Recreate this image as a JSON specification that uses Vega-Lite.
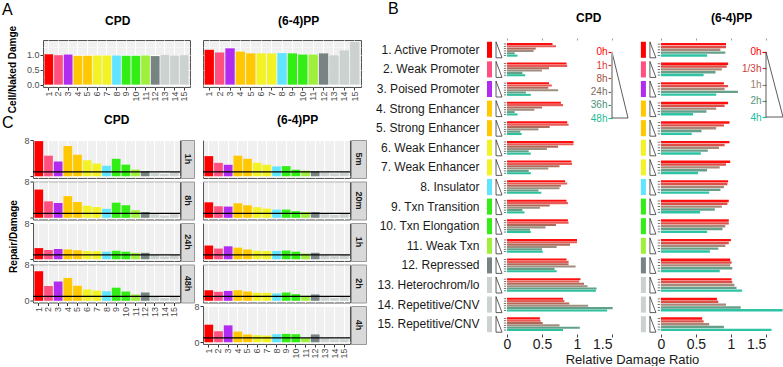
{
"$schema": "https://vega.github.io/schema/vega-lite/v6.json",
"background": "white",
"padding": {"left": 2, "top": 0, "right": 0, "bottom": 0},
"config": {
 "font": "Liberation Sans",
 "view": {"stroke": null},
 "title": {"fontSize": 12, "fontWeight": "bold", "frame": "group", "anchor": "start", "align": "center", "baseline": "alphabetic", "color": "#000000"}
},
"datasets": {
 "states": [
  {"s":1,"label":"1. Active Promoter"},{"s":2,"label":"2. Weak Promoter"},{"s":3,"label":"3. Poised Promoter"},
  {"s":4,"label":"4. Strong Enhancer"},{"s":5,"label":"5. Strong Enhancer"},{"s":6,"label":"6. Weak Enhancer"},
  {"s":7,"label":"7. Weak Enhancer"},{"s":8,"label":"8. Insulator"},{"s":9,"label":"9. Txn Transition"},
  {"s":10,"label":"10. Txn Elongation"},{"s":11,"label":"11. Weak Txn"},{"s":12,"label":"12. Repressed"},
  {"s":13,"label":"13. Heterochrom/lo"},{"s":14,"label":"14. Repetitive/CNV"},{"s":15,"label":"15. Repetitive/CNV"}
 ],
 "bcpd": [
  {"s":1,"t":"0h","v":0.65},{"s":1,"t":"1h","v":0.70},{"s":1,"t":"8h","v":0.41},{"s":1,"t":"24h","v":0.38},{"s":1,"t":"36h","v":0.11},{"s":1,"t":"48h","v":0.15},
  {"s":2,"t":"0h","v":0.85},{"s":2,"t":"1h","v":0.86},{"s":2,"t":"8h","v":0.60},{"s":2,"t":"24h","v":0.50},{"s":2,"t":"36h","v":0.22},{"s":2,"t":"48h","v":0.26},
  {"s":3,"t":"0h","v":0.60},{"s":3,"t":"1h","v":0.64},{"s":3,"t":"8h","v":0.59},{"s":3,"t":"24h","v":0.73},{"s":3,"t":"36h","v":0.27},{"s":3,"t":"48h","v":0.34},
  {"s":4,"t":"0h","v":0.77},{"s":4,"t":"1h","v":0.80},{"s":4,"t":"8h","v":0.50},{"s":4,"t":"24h","v":0.39},{"s":4,"t":"36h","v":0.11},{"s":4,"t":"48h","v":0.15},
  {"s":5,"t":"0h","v":0.86},{"s":5,"t":"1h","v":0.88},{"s":5,"t":"8h","v":0.61},{"s":5,"t":"24h","v":0.45},{"s":5,"t":"36h","v":0.19},{"s":5,"t":"48h","v":0.21},
  {"s":6,"t":"0h","v":0.95},{"s":6,"t":"1h","v":0.95},{"s":6,"t":"8h","v":0.73},{"s":6,"t":"24h","v":0.57},{"s":6,"t":"36h","v":0.31},{"s":6,"t":"48h","v":0.34},
  {"s":7,"t":"0h","v":0.92},{"s":7,"t":"1h","v":0.93},{"s":7,"t":"8h","v":0.75},{"s":7,"t":"24h","v":0.59},{"s":7,"t":"36h","v":0.31},{"s":7,"t":"48h","v":0.34},
  {"s":8,"t":"0h","v":0.83},{"s":8,"t":"1h","v":0.86},{"s":8,"t":"8h","v":0.77},{"s":8,"t":"24h","v":0.75},{"s":8,"t":"36h","v":0.45},{"s":8,"t":"48h","v":0.49},
  {"s":9,"t":"0h","v":0.85},{"s":9,"t":"1h","v":0.87},{"s":9,"t":"8h","v":0.61},{"s":9,"t":"24h","v":0.47},{"s":9,"t":"36h","v":0.22},{"s":9,"t":"48h","v":0.25},
  {"s":10,"t":"0h","v":0.87},{"s":10,"t":"1h","v":0.88},{"s":10,"t":"8h","v":0.70},{"s":10,"t":"24h","v":0.55},{"s":10,"t":"36h","v":0.33},{"s":10,"t":"48h","v":0.34},
  {"s":11,"t":"0h","v":1.00},{"s":11,"t":"1h","v":1.00},{"s":11,"t":"8h","v":0.90},{"s":11,"t":"24h","v":0.71},{"s":11,"t":"36h","v":0.50},{"s":11,"t":"48h","v":0.51},
  {"s":12,"t":"0h","v":0.85},{"s":12,"t":"1h","v":0.88},{"s":12,"t":"8h","v":0.88},{"s":12,"t":"24h","v":0.98},{"s":12,"t":"36h","v":0.68},{"s":12,"t":"48h","v":0.71},
  {"s":13,"t":"0h","v":1.05},{"s":13,"t":"1h","v":1.03},{"s":13,"t":"8h","v":1.10},{"s":13,"t":"24h","v":1.15},{"s":13,"t":"36h","v":1.28},{"s":13,"t":"48h","v":1.27},
  {"s":14,"t":"0h","v":0.80},{"s":14,"t":"1h","v":0.82},{"s":14,"t":"8h","v":0.89},{"s":14,"t":"24h","v":1.16},{"s":14,"t":"36h","v":1.51},{"s":14,"t":"48h","v":1.43},
  {"s":15,"t":"0h","v":0.47},{"s":15,"t":"1h","v":0.48},{"s":15,"t":"8h","v":0.51},{"s":15,"t":"24h","v":0.75},{"s":15,"t":"36h","v":1.04},{"s":15,"t":"48h","v":0.80}
 ],
 "bpp": [
  {"s":1,"t":"0h","v":0.93},{"s":1,"t":"1/3h","v":0.93},{"s":1,"t":"1h","v":0.85},{"s":1,"t":"2h","v":0.92},{"s":1,"t":"4h","v":0.66},
  {"s":2,"t":"0h","v":0.96},{"s":2,"t":"1/3h","v":0.94},{"s":2,"t":"1h","v":0.87},{"s":2,"t":"2h","v":0.78},{"s":2,"t":"4h","v":0.61},
  {"s":3,"t":"0h","v":0.90},{"s":3,"t":"1/3h","v":0.96},{"s":3,"t":"1h","v":0.91},{"s":3,"t":"2h","v":1.10},{"s":3,"t":"4h","v":0.79},
  {"s":4,"t":"0h","v":0.96},{"s":4,"t":"1/3h","v":0.91},{"s":4,"t":"1h","v":0.79},{"s":4,"t":"2h","v":0.65},{"s":4,"t":"4h","v":0.46},
  {"s":5,"t":"0h","v":0.98},{"s":5,"t":"1/3h","v":0.90},{"s":5,"t":"1h","v":0.79},{"s":5,"t":"2h","v":0.58},{"s":5,"t":"4h","v":0.44},
  {"s":6,"t":"0h","v":0.98},{"s":6,"t":"1/3h","v":0.91},{"s":6,"t":"1h","v":0.83},{"s":6,"t":"2h","v":0.67},{"s":6,"t":"4h","v":0.57},
  {"s":7,"t":"0h","v":0.99},{"s":7,"t":"1/3h","v":0.93},{"s":7,"t":"1h","v":0.84},{"s":7,"t":"2h","v":0.66},{"s":7,"t":"4h","v":0.53},
  {"s":8,"t":"0h","v":0.96},{"s":8,"t":"1/3h","v":0.95},{"s":8,"t":"1h","v":0.90},{"s":8,"t":"2h","v":0.85},{"s":8,"t":"4h","v":0.69},
  {"s":9,"t":"0h","v":0.97},{"s":9,"t":"1/3h","v":0.95},{"s":9,"t":"1h","v":0.87},{"s":9,"t":"2h","v":0.77},{"s":9,"t":"4h","v":0.56},
  {"s":10,"t":"0h","v":0.97},{"s":10,"t":"1/3h","v":0.97},{"s":10,"t":"1h","v":0.92},{"s":10,"t":"2h","v":0.88},{"s":10,"t":"4h","v":0.66},
  {"s":11,"t":"0h","v":1.00},{"s":11,"t":"1/3h","v":0.97},{"s":11,"t":"1h","v":0.92},{"s":11,"t":"2h","v":0.82},{"s":11,"t":"4h","v":0.70},
  {"s":12,"t":"0h","v":0.99},{"s":12,"t":"1/3h","v":1.01},{"s":12,"t":"1h","v":0.99},{"s":12,"t":"2h","v":1.02},{"s":12,"t":"4h","v":0.84},
  {"s":13,"t":"0h","v":1.01},{"s":13,"t":"1/3h","v":1.02},{"s":13,"t":"1h","v":1.05},{"s":13,"t":"2h","v":1.08},{"s":13,"t":"4h","v":1.16},
  {"s":14,"t":"0h","v":0.80},{"s":14,"t":"1/3h","v":0.82},{"s":14,"t":"1h","v":0.93},{"s":14,"t":"2h","v":1.14},{"s":14,"t":"4h","v":1.74},
  {"s":15,"t":"0h","v":0.59},{"s":15,"t":"1/3h","v":0.61},{"s":15,"t":"1h","v":0.69},{"s":15,"t":"2h","v":0.90},{"s":15,"t":"4h","v":1.58}
 ],
 "a": [
  {"a":"CPD","c":"1","v":1.02},{"a":"CPD","c":"2","v":0.99},{"a":"CPD","c":"3","v":1.01},{"a":"CPD","c":"4","v":0.97},{"a":"CPD","c":"5","v":0.97},
  {"a":"CPD","c":"6","v":0.98},{"a":"CPD","c":"7","v":0.98},{"a":"CPD","c":"8","v":0.98},{"a":"CPD","c":"9","v":0.97},{"a":"CPD","c":"10","v":0.97},
  {"a":"CPD","c":"11","v":0.98},{"a":"CPD","c":"12","v":0.96},{"a":"CPD","c":"13","v":1.0},{"a":"CPD","c":"14","v":0.98},{"a":"CPD","c":"15","v":0.99},
  {"a":"PP","c":"1","v":1.17},{"a":"PP","c":"2","v":1.08},{"a":"PP","c":"3","v":1.22},{"a":"PP","c":"4","v":1.11},{"a":"PP","c":"5","v":1.05},
  {"a":"PP","c":"6","v":1.05},{"a":"PP","c":"7","v":1.05},{"a":"PP","c":"8","v":1.06},{"a":"PP","c":"9","v":1.05},{"a":"PP","c":"10","v":1.01},
  {"a":"PP","c":"11","v":1.01},{"a":"PP","c":"12","v":1.05},{"a":"PP","c":"13","v":0.99},{"a":"PP","c":"14","v":1.15},{"a":"PP","c":"15","v":1.43}
 ],
 "c": [
  {"a":"CPD","t":"1h","c":"1","v":7.85},{"a":"CPD","t":"1h","c":"2","v":4.6},{"a":"CPD","t":"1h","c":"3","v":3.3},{"a":"CPD","t":"1h","c":"4","v":6.75},{"a":"CPD","t":"1h","c":"5","v":4.8},{"a":"CPD","t":"1h","c":"6","v":3.6},{"a":"CPD","t":"1h","c":"7","v":2.85},{"a":"CPD","t":"1h","c":"8","v":2.35},{"a":"CPD","t":"1h","c":"9","v":3.9},{"a":"CPD","t":"1h","c":"10","v":2.6},{"a":"CPD","t":"1h","c":"11","v":1.5},{"a":"CPD","t":"1h","c":"12","v":1.1},{"a":"CPD","t":"1h","c":"13","v":0.7},{"a":"CPD","t":"1h","c":"14","v":0.5},{"a":"CPD","t":"1h","c":"15","v":0.95},
  {"a":"CPD","t":"8h","c":"1","v":6.3},{"a":"CPD","t":"8h","c":"2","v":3.67},{"a":"CPD","t":"8h","c":"3","v":3.3},{"a":"CPD","t":"8h","c":"4","v":4.83},{"a":"CPD","t":"8h","c":"5","v":3.5},{"a":"CPD","t":"8h","c":"6","v":2.7},{"a":"CPD","t":"8h","c":"7","v":2.4},{"a":"CPD","t":"8h","c":"8","v":2.0},{"a":"CPD","t":"8h","c":"9","v":3.37},{"a":"CPD","t":"8h","c":"10","v":2.8},{"a":"CPD","t":"8h","c":"11","v":1.7},{"a":"CPD","t":"8h","c":"12","v":1.3},{"a":"CPD","t":"8h","c":"13","v":0.8},{"a":"CPD","t":"8h","c":"14","v":0.5},{"a":"CPD","t":"8h","c":"15","v":0.8},
  {"a":"CPD","t":"24h","c":"1","v":2.5},{"a":"CPD","t":"24h","c":"2","v":2.07},{"a":"CPD","t":"24h","c":"3","v":2.3},{"a":"CPD","t":"24h","c":"4","v":2.2},{"a":"CPD","t":"24h","c":"5","v":2.0},{"a":"CPD","t":"24h","c":"6","v":1.85},{"a":"CPD","t":"24h","c":"7","v":1.8},{"a":"CPD","t":"24h","c":"8","v":1.7},{"a":"CPD","t":"24h","c":"9","v":1.9},{"a":"CPD","t":"24h","c":"10","v":1.7},{"a":"CPD","t":"24h","c":"11","v":1.45},{"a":"CPD","t":"24h","c":"12","v":1.45},{"a":"CPD","t":"24h","c":"13","v":0.95},{"a":"CPD","t":"24h","c":"14","v":0.65},{"a":"CPD","t":"24h","c":"15","v":0.95},
  {"a":"CPD","t":"48h","c":"1","v":6.6},{"a":"CPD","t":"48h","c":"2","v":3.3},{"a":"CPD","t":"48h","c":"3","v":4.3},{"a":"CPD","t":"48h","c":"4","v":5.1},{"a":"CPD","t":"48h","c":"5","v":3.37},{"a":"CPD","t":"48h","c":"6","v":2.5},{"a":"CPD","t":"48h","c":"7","v":2.28},{"a":"CPD","t":"48h","c":"8","v":2.13},{"a":"CPD","t":"48h","c":"9","v":2.93},{"a":"CPD","t":"48h","c":"10","v":2.07},{"a":"CPD","t":"48h","c":"11","v":1.4},{"a":"CPD","t":"48h","c":"12","v":1.85},{"a":"CPD","t":"48h","c":"13","v":0.83},{"a":"CPD","t":"48h","c":"14","v":0.6},{"a":"CPD","t":"48h","c":"15","v":0.8},
  {"a":"PP","t":"5m","c":"1","v":4.5},{"a":"PP","t":"5m","c":"2","v":3.0},{"a":"PP","t":"5m","c":"3","v":2.57},{"a":"PP","t":"5m","c":"4","v":4.6},{"a":"PP","t":"5m","c":"5","v":3.9},{"a":"PP","t":"5m","c":"6","v":3.0},{"a":"PP","t":"5m","c":"7","v":2.57},{"a":"PP","t":"5m","c":"8","v":2.2},{"a":"PP","t":"5m","c":"9","v":2.27},{"a":"PP","t":"5m","c":"10","v":1.47},{"a":"PP","t":"5m","c":"11","v":1.25},{"a":"PP","t":"5m","c":"12","v":1.1},{"a":"PP","t":"5m","c":"13","v":0.8},{"a":"PP","t":"5m","c":"14","v":0.6},{"a":"PP","t":"5m","c":"15","v":0.8},
  {"a":"PP","t":"20m","c":"1","v":3.45},{"a":"PP","t":"20m","c":"2","v":2.57},{"a":"PP","t":"20m","c":"3","v":2.5},{"a":"PP","t":"20m","c":"4","v":3.23},{"a":"PP","t":"20m","c":"5","v":2.8},{"a":"PP","t":"20m","c":"6","v":2.35},{"a":"PP","t":"20m","c":"7","v":2.05},{"a":"PP","t":"20m","c":"8","v":1.83},{"a":"PP","t":"20m","c":"9","v":1.83},{"a":"PP","t":"20m","c":"10","v":1.47},{"a":"PP","t":"20m","c":"11","v":1.3},{"a":"PP","t":"20m","c":"12","v":1.3},{"a":"PP","t":"20m","c":"13","v":0.8},{"a":"PP","t":"20m","c":"14","v":0.6},{"a":"PP","t":"20m","c":"15","v":0.8},
  {"a":"PP","t":"1h","c":"1","v":3.07},{"a":"PP","t":"1h","c":"2","v":2.4},{"a":"PP","t":"1h","c":"3","v":2.9},{"a":"PP","t":"1h","c":"4","v":2.6},{"a":"PP","t":"1h","c":"5","v":2.2},{"a":"PP","t":"1h","c":"6","v":1.9},{"a":"PP","t":"1h","c":"7","v":1.85},{"a":"PP","t":"1h","c":"8","v":1.85},{"a":"PP","t":"1h","c":"9","v":1.95},{"a":"PP","t":"1h","c":"10","v":1.7},{"a":"PP","t":"1h","c":"11","v":1.3},{"a":"PP","t":"1h","c":"12","v":1.45},{"a":"PP","t":"1h","c":"13","v":0.95},{"a":"PP","t":"1h","c":"14","v":0.7},{"a":"PP","t":"1h","c":"15","v":0.95},
  {"a":"PP","t":"2h","c":"1","v":2.35},{"a":"PP","t":"2h","c":"2","v":2.0},{"a":"PP","t":"2h","c":"3","v":2.2},{"a":"PP","t":"2h","c":"4","v":2.35},{"a":"PP","t":"2h","c":"5","v":2.1},{"a":"PP","t":"2h","c":"6","v":1.78},{"a":"PP","t":"2h","c":"7","v":1.78},{"a":"PP","t":"2h","c":"8","v":1.63},{"a":"PP","t":"2h","c":"9","v":1.85},{"a":"PP","t":"2h","c":"10","v":1.48},{"a":"PP","t":"2h","c":"11","v":1.13},{"a":"PP","t":"2h","c":"12","v":1.41},{"a":"PP","t":"2h","c":"13","v":0.8},{"a":"PP","t":"2h","c":"14","v":0.6},{"a":"PP","t":"2h","c":"15","v":0.8},
  {"a":"PP","t":"4h","c":"1","v":3.93},{"a":"PP","t":"4h","c":"2","v":2.47},{"a":"PP","t":"4h","c":"3","v":3.78},{"a":"PP","t":"4h","c":"4","v":2.4},{"a":"PP","t":"4h","c":"5","v":1.75},{"a":"PP","t":"4h","c":"6","v":1.6},{"a":"PP","t":"4h","c":"7","v":1.5},{"a":"PP","t":"4h","c":"8","v":1.8},{"a":"PP","t":"4h","c":"9","v":1.88},{"a":"PP","t":"4h","c":"10","v":1.8},{"a":"PP","t":"4h","c":"11","v":0.94},{"a":"PP","t":"4h","c":"12","v":1.75},{"a":"PP","t":"4h","c":"13","v":0.87},{"a":"PP","t":"4h","c":"14","v":0.6},{"a":"PP","t":"4h","c":"15","v":0.65}
 ]
},
"resolve": {"scale": {"color": "independent", "fill": "independent", "yOffset": "independent"}},
"spacing": 8,
"hconcat": [
 {
  "spacing": -1,
  "vconcat": [
   {
    "bounds": "flush", "spacing": 5,
    "title": {"text": "A", "anchor": "start", "align": "left", "dx": -31, "fontSize": 16, "fontWeight": "normal", "offset": -4},
    "hconcat": [
     {"width": 5, "height": 47, "data": {"values": [{}]}, "mark": {"type": "point", "opacity": 0}},
     {
      "width": 147, "height": 47,
      "title": {"text": "CPD", "dx": 62, "offset": -2.6},
      "view": {"fill": "#f0f0f0", "stroke": "#555555"},
      "data": {"name": "a"},
      "transform": [{"filter": "datum.a == 'CPD'"}],
      "mark": "bar",
      "encoding": {
       "x": {"field": "c", "type": "nominal", "scale": {"domain": ["1","2","3","4","5","6","7","8","9","10","11","12","13","14","15"], "paddingInner": 0.1, "paddingOuter": 0.15},
             "axis": {"labelAngle": 270, "labelFontSize": 9, "labelColor": "#4d4d4d", "labelPadding": 1, "tickSize": 3, "tickColor": "#333333", "domain": false, "grid": true, "gridColor": "#ffffff", "title": null}},
       "y": {"field": "v", "type": "quantitative", "scale": {"domain": [-0.08, 1.5], "nice": false, "zero": false},
             "axis": {"values": [0, 0.25, 0.5, 0.75, 1, 1.25], "labelExpr": "datum.value % 0.5 == 0 ? format(datum.value, '.1f') : ''", "labelOverlap": false,
                      "tickOpacity": {"condition": {"test": "datum.value % 0.5 != 0", "value": 0}, "value": 1},
                      "grid": true, "gridColor": "#ffffff", "gridWidth": {"condition": {"test": "datum.value % 0.5 != 0", "value": 0.5}, "value": 1},
                      "domain": false, "tickSize": 3, "tickColor": "#333333", "labelFontSize": 9, "labelColor": "#4d4d4d", "labelPadding": 1,
                      "title": "Cell/Naked Damge", "titleFontSize": 10, "titleFontWeight": "bold", "titleColor": "#000000", "titlePadding": 9, "titleY": 29}},
       "color": {"field": "c", "type": "nominal", "scale": {"domain": ["1","2","3","4","5","6","7","8","9","10","11","12","13","14","15"], "range": ["#ff0000","#ff5080","#b12cf0","#ffc800","#ffc800","#f2f224","#f2f224","#5fe5ff","#32ee14","#32ee14","#9ff03c","#788484","#cbd2d0","#cbd2d0","#cbd2d0"]}, "legend": null}
      }
     },
     {"width": 3, "height": 47, "data": {"values": [{}]}, "mark": {"type": "point", "opacity": 0}},
     {
      "width": 158, "height": 47,
      "title": {"text": "(6-4)PP", "dx": 75, "offset": 12},
      "view": {"fill": "#f0f0f0", "stroke": "#555555"},
      "data": {"name": "a"},
      "transform": [{"filter": "datum.a == 'PP'"}],
      "mark": "bar",
      "encoding": {
       "x": {"field": "c", "type": "nominal", "scale": {"domain": ["1","2","3","4","5","6","7","8","9","10","11","12","13","14","15"], "paddingInner": 0.1, "paddingOuter": 0.15},
             "axis": {"labelAngle": 270, "labelFontSize": 9, "labelColor": "#4d4d4d", "labelPadding": 1, "tickSize": 3, "tickColor": "#333333", "domain": false, "grid": true, "gridColor": "#ffffff", "title": null}},
       "y": {"field": "v", "type": "quantitative", "scale": {"domain": [-0.08, 1.5], "nice": false, "zero": false},
             "axis": {"values": [0, 0.25, 0.5, 0.75, 1, 1.25], "labels": false, "ticks": false,
                      "grid": true, "gridColor": "#ffffff", "gridWidth": {"condition": {"test": "datum.value % 0.5 != 0", "value": 0.5}, "value": 1},
                      "domain": false, "title": null}},
       "color": {"field": "c", "type": "nominal", "scale": {"domain": ["1","2","3","4","5","6","7","8","9","10","11","12","13","14","15"], "range": ["#ff0000","#ff5080","#b12cf0","#ffc800","#ffc800","#f2f224","#f2f224","#5fe5ff","#32ee14","#32ee14","#9ff03c","#788484","#cbd2d0","#cbd2d0","#cbd2d0"]}, "legend": null}
      }
     }
    ]
   },
   {
    "bounds": "flush", "columns": 5, "align": "each", "spacing": {"row": 3.5, "column": 1},
    "title": {"text": "C", "anchor": "start", "align": "left", "dx": -31, "fontSize": 16, "fontWeight": "normal", "offset": -17},
    "concat": [
     {"width": 147, "height": 38, "title": {"text": "CPD", "dx": 71, "offset": 9}, "view": {"fill": "#f0f0f0", "stroke": "#555555"},
      "layer": [
       {"data": {"name": "c"}, "transform": [{"filter": "datum.a == 'CPD' && datum.t == '1h'"}], "mark": "bar",
        "encoding": {
         "x": {"field": "c", "type": "nominal", "scale": {"domain": ["1","2","3","4","5","6","7","8","9","10","11","12","13","14","15"], "paddingInner": 0.1, "paddingOuter": 0.15}, "axis": {"labels": false, "ticks": false, "domain": false, "grid": true, "gridColor": "#ffffff", "title": null}},
         "y": {"field": "v", "type": "quantitative", "scale": {"domain": [-0.38, 8.1], "nice": false, "zero": false}, "axis": {"values": [0,1,2,3,4,5,6,7,8], "labelOverlap": false, "labelExpr": "datum.value % 2 == 0 && datum.value > 0 ? datum.label : ''", "tickOpacity": {"condition": {"test": "datum.value % 2 == 1", "value": 0}, "value": 1}, "grid": true, "gridColor": "#ffffff", "gridWidth": {"condition": {"test": "datum.value % 2 == 1", "value": 0.5}, "value": 1}, "domain": false, "tickSize": 3, "tickColor": "#333333", "labelFontSize": 9, "labelColor": "#4d4d4d", "labelPadding": 1, "title": null}},
         "color": {"field": "c", "type": "nominal", "scale": {"domain": ["1","2","3","4","5","6","7","8","9","10","11","12","13","14","15"], "range": ["#ff0000","#ff5080","#b12cf0","#ffc800","#ffc800","#f2f224","#f2f224","#5fe5ff","#32ee14","#32ee14","#9ff03c","#788484","#cbd2d0","#cbd2d0","#cbd2d0"]}, "legend": null}}},
       {"data": {"values": [{}]}, "mark": {"type": "rule", "color": "#000000", "strokeWidth": 1.2}, "encoding": {"y": {"datum": 1, "type": "quantitative", "scale": {"domain": [-0.38, 8.1], "nice": false, "zero": false}}}}
      ]},
     {"width": 13, "height": 38, "view": {"fill": "#d9d9d9", "stroke": "#999999"}, "data": {"values": [{"s": "1h"}]}, "mark": {"type": "text", "angle": 90, "fontSize": 9, "fontWeight": "bold", "color": "#1a1a1a"}, "encoding": {"text": {"field": "s"}}},
     {"width": 7, "height": 38, "data": {"values": [{}]}, "mark": {"type": "point", "opacity": 0}},
     {"width": 147, "height": 38, "title": {"text": "(6-4)PP", "dx": 74, "offset": 13}, "view": {"fill": "#f0f0f0", "stroke": "#555555"},
      "layer": [
       {"data": {"name": "c"}, "transform": [{"filter": "datum.a == 'PP' && datum.t == '5m'"}], "mark": "bar",
        "encoding": {
         "x": {"field": "c", "type": "nominal", "scale": {"domain": ["1","2","3","4","5","6","7","8","9","10","11","12","13","14","15"], "paddingInner": 0.1, "paddingOuter": 0.15}, "axis": {"labels": false, "ticks": false, "domain": false, "grid": true, "gridColor": "#ffffff", "title": null}},
         "y": {"field": "v", "type": "quantitative", "scale": {"domain": [-0.38, 8.1], "nice": false, "zero": false}, "axis": {"values": [0,1,2,3,4,5,6,7,8], "labels": false, "ticks": false, "grid": true, "gridColor": "#ffffff", "gridWidth": {"condition": {"test": "datum.value % 2 == 1", "value": 0.5}, "value": 1}, "domain": false, "title": null}},
         "color": {"field": "c", "type": "nominal", "scale": {"domain": ["1","2","3","4","5","6","7","8","9","10","11","12","13","14","15"], "range": ["#ff0000","#ff5080","#b12cf0","#ffc800","#ffc800","#f2f224","#f2f224","#5fe5ff","#32ee14","#32ee14","#9ff03c","#788484","#cbd2d0","#cbd2d0","#cbd2d0"]}, "legend": null}}},
       {"data": {"values": [{}]}, "mark": {"type": "rule", "color": "#000000", "strokeWidth": 1.2}, "encoding": {"y": {"datum": 1, "type": "quantitative", "scale": {"domain": [-0.38, 8.1], "nice": false, "zero": false}}}}
      ]},
     {"width": 15, "height": 38, "view": {"fill": "#d9d9d9", "stroke": "#999999"}, "data": {"values": [{"s": "5m"}]}, "mark": {"type": "text", "angle": 90, "fontSize": 9, "fontWeight": "bold", "color": "#1a1a1a"}, "encoding": {"text": {"field": "s"}}},

     {"width": 147, "height": 38, "view": {"fill": "#f0f0f0", "stroke": "#555555"},
      "layer": [
       {"data": {"name": "c"}, "transform": [{"filter": "datum.a == 'CPD' && datum.t == '8h'"}], "mark": "bar",
        "encoding": {
         "x": {"field": "c", "type": "nominal", "scale": {"domain": ["1","2","3","4","5","6","7","8","9","10","11","12","13","14","15"], "paddingInner": 0.1, "paddingOuter": 0.15}, "axis": {"labels": false, "ticks": false, "domain": false, "grid": true, "gridColor": "#ffffff", "title": null}},
         "y": {"field": "v", "type": "quantitative", "scale": {"domain": [-0.38, 8.1], "nice": false, "zero": false}, "axis": {"values": [0,1,2,3,4,5,6,7,8], "labelOverlap": false, "labelExpr": "datum.value % 2 == 0 && datum.value > 0 ? datum.label : ''", "tickOpacity": {"condition": {"test": "datum.value % 2 == 1", "value": 0}, "value": 1}, "grid": true, "gridColor": "#ffffff", "gridWidth": {"condition": {"test": "datum.value % 2 == 1", "value": 0.5}, "value": 1}, "domain": false, "tickSize": 3, "tickColor": "#333333", "labelFontSize": 9, "labelColor": "#4d4d4d", "labelPadding": 1, "title": null}},
         "color": {"field": "c", "type": "nominal", "scale": {"domain": ["1","2","3","4","5","6","7","8","9","10","11","12","13","14","15"], "range": ["#ff0000","#ff5080","#b12cf0","#ffc800","#ffc800","#f2f224","#f2f224","#5fe5ff","#32ee14","#32ee14","#9ff03c","#788484","#cbd2d0","#cbd2d0","#cbd2d0"]}, "legend": null}}},
       {"data": {"values": [{}]}, "mark": {"type": "rule", "color": "#000000", "strokeWidth": 1.2}, "encoding": {"y": {"datum": 1, "type": "quantitative", "scale": {"domain": [-0.38, 8.1], "nice": false, "zero": false}}}}
      ]},
     {"width": 13, "height": 38, "view": {"fill": "#d9d9d9", "stroke": "#999999"}, "data": {"values": [{"s": "8h"}]}, "mark": {"type": "text", "angle": 90, "fontSize": 9, "fontWeight": "bold", "color": "#1a1a1a"}, "encoding": {"text": {"field": "s"}}},
     {"width": 7, "height": 38, "data": {"values": [{}]}, "mark": {"type": "point", "opacity": 0}},
     {"width": 147, "height": 38, "view": {"fill": "#f0f0f0", "stroke": "#555555"},
      "layer": [
       {"data": {"name": "c"}, "transform": [{"filter": "datum.a == 'PP' && datum.t == '20m'"}], "mark": "bar",
        "encoding": {
         "x": {"field": "c", "type": "nominal", "scale": {"domain": ["1","2","3","4","5","6","7","8","9","10","11","12","13","14","15"], "paddingInner": 0.1, "paddingOuter": 0.15}, "axis": {"labels": false, "ticks": false, "domain": false, "grid": true, "gridColor": "#ffffff", "title": null}},
         "y": {"field": "v", "type": "quantitative", "scale": {"domain": [-0.38, 8.1], "nice": false, "zero": false}, "axis": {"values": [0,1,2,3,4,5,6,7,8], "labels": false, "ticks": false, "grid": true, "gridColor": "#ffffff", "gridWidth": {"condition": {"test": "datum.value % 2 == 1", "value": 0.5}, "value": 1}, "domain": false, "title": null}},
         "color": {"field": "c", "type": "nominal", "scale": {"domain": ["1","2","3","4","5","6","7","8","9","10","11","12","13","14","15"], "range": ["#ff0000","#ff5080","#b12cf0","#ffc800","#ffc800","#f2f224","#f2f224","#5fe5ff","#32ee14","#32ee14","#9ff03c","#788484","#cbd2d0","#cbd2d0","#cbd2d0"]}, "legend": null}}},
       {"data": {"values": [{}]}, "mark": {"type": "rule", "color": "#000000", "strokeWidth": 1.2}, "encoding": {"y": {"datum": 1, "type": "quantitative", "scale": {"domain": [-0.38, 8.1], "nice": false, "zero": false}}}}
      ]},
     {"width": 15, "height": 38, "view": {"fill": "#d9d9d9", "stroke": "#999999"}, "data": {"values": [{"s": "20m"}]}, "mark": {"type": "text", "angle": 90, "fontSize": 9, "fontWeight": "bold", "color": "#1a1a1a"}, "encoding": {"text": {"field": "s"}}},

     {"width": 147, "height": 38, "view": {"fill": "#f0f0f0", "stroke": "#555555"},
      "layer": [
       {"data": {"name": "c"}, "transform": [{"filter": "datum.a == 'CPD' && datum.t == '24h'"}], "mark": "bar",
        "encoding": {
         "x": {"field": "c", "type": "nominal", "scale": {"domain": ["1","2","3","4","5","6","7","8","9","10","11","12","13","14","15"], "paddingInner": 0.1, "paddingOuter": 0.15}, "axis": {"labels": false, "ticks": false, "domain": false, "grid": true, "gridColor": "#ffffff", "title": null}},
         "y": {"field": "v", "type": "quantitative", "scale": {"domain": [-0.38, 8.1], "nice": false, "zero": false}, "axis": {"values": [0,1,2,3,4,5,6,7,8], "labelOverlap": false, "labelExpr": "datum.value % 2 == 0 && datum.value > 0 ? datum.label : ''", "tickOpacity": {"condition": {"test": "datum.value % 2 == 1", "value": 0}, "value": 1}, "grid": true, "gridColor": "#ffffff", "gridWidth": {"condition": {"test": "datum.value % 2 == 1", "value": 0.5}, "value": 1}, "domain": false, "tickSize": 3, "tickColor": "#333333", "labelFontSize": 9, "labelColor": "#4d4d4d", "labelPadding": 1, "title": "Repair/Damage", "titleFontSize": 10, "titleFontWeight": "bold", "titleColor": "#000000", "titlePadding": 5, "titleY": 13}},
         "color": {"field": "c", "type": "nominal", "scale": {"domain": ["1","2","3","4","5","6","7","8","9","10","11","12","13","14","15"], "range": ["#ff0000","#ff5080","#b12cf0","#ffc800","#ffc800","#f2f224","#f2f224","#5fe5ff","#32ee14","#32ee14","#9ff03c","#788484","#cbd2d0","#cbd2d0","#cbd2d0"]}, "legend": null}}},
       {"data": {"values": [{}]}, "mark": {"type": "rule", "color": "#000000", "strokeWidth": 1.2}, "encoding": {"y": {"datum": 1, "type": "quantitative", "scale": {"domain": [-0.38, 8.1], "nice": false, "zero": false}}}}
      ]},
     {"width": 13, "height": 38, "view": {"fill": "#d9d9d9", "stroke": "#999999"}, "data": {"values": [{"s": "24h"}]}, "mark": {"type": "text", "angle": 90, "fontSize": 9, "fontWeight": "bold", "color": "#1a1a1a"}, "encoding": {"text": {"field": "s"}}},
     {"width": 7, "height": 38, "data": {"values": [{}]}, "mark": {"type": "point", "opacity": 0}},
     {"width": 147, "height": 38, "view": {"fill": "#f0f0f0", "stroke": "#555555"},
      "layer": [
       {"data": {"name": "c"}, "transform": [{"filter": "datum.a == 'PP' && datum.t == '1h'"}], "mark": "bar",
        "encoding": {
         "x": {"field": "c", "type": "nominal", "scale": {"domain": ["1","2","3","4","5","6","7","8","9","10","11","12","13","14","15"], "paddingInner": 0.1, "paddingOuter": 0.15}, "axis": {"labels": false, "ticks": false, "domain": false, "grid": true, "gridColor": "#ffffff", "title": null}},
         "y": {"field": "v", "type": "quantitative", "scale": {"domain": [-0.38, 8.1], "nice": false, "zero": false}, "axis": {"values": [0,1,2,3,4,5,6,7,8], "labels": false, "ticks": false, "grid": true, "gridColor": "#ffffff", "gridWidth": {"condition": {"test": "datum.value % 2 == 1", "value": 0.5}, "value": 1}, "domain": false, "title": null}},
         "color": {"field": "c", "type": "nominal", "scale": {"domain": ["1","2","3","4","5","6","7","8","9","10","11","12","13","14","15"], "range": ["#ff0000","#ff5080","#b12cf0","#ffc800","#ffc800","#f2f224","#f2f224","#5fe5ff","#32ee14","#32ee14","#9ff03c","#788484","#cbd2d0","#cbd2d0","#cbd2d0"]}, "legend": null}}},
       {"data": {"values": [{}]}, "mark": {"type": "rule", "color": "#000000", "strokeWidth": 1.2}, "encoding": {"y": {"datum": 1, "type": "quantitative", "scale": {"domain": [-0.38, 8.1], "nice": false, "zero": false}}}}
      ]},
     {"width": 15, "height": 38, "view": {"fill": "#d9d9d9", "stroke": "#999999"}, "data": {"values": [{"s": "1h"}]}, "mark": {"type": "text", "angle": 90, "fontSize": 9, "fontWeight": "bold", "color": "#1a1a1a"}, "encoding": {"text": {"field": "s"}}},

     {"width": 147, "height": 38, "view": {"fill": "#f0f0f0", "stroke": "#555555"},
      "layer": [
       {"data": {"name": "c"}, "transform": [{"filter": "datum.a == 'CPD' && datum.t == '48h'"}], "mark": "bar",
        "encoding": {
         "x": {"field": "c", "type": "nominal", "scale": {"domain": ["1","2","3","4","5","6","7","8","9","10","11","12","13","14","15"], "paddingInner": 0.1, "paddingOuter": 0.15}, "axis": {"labelAngle": 270, "labelFontSize": 9, "labelColor": "#4d4d4d", "labelPadding": 1, "tickSize": 3, "tickColor": "#333333", "domain": false, "grid": true, "gridColor": "#ffffff", "title": null}},
         "y": {"field": "v", "type": "quantitative", "scale": {"domain": [-0.38, 8.1], "nice": false, "zero": false}, "axis": {"values": [0,1,2,3,4,5,6,7,8], "labelOverlap": false, "labelExpr": "datum.value % 2 == 0 ? datum.label : ''", "tickOpacity": {"condition": {"test": "datum.value % 2 == 1", "value": 0}, "value": 1}, "grid": true, "gridColor": "#ffffff", "gridWidth": {"condition": {"test": "datum.value % 2 == 1", "value": 0.5}, "value": 1}, "domain": false, "tickSize": 3, "tickColor": "#333333", "labelFontSize": 9, "labelColor": "#4d4d4d", "labelPadding": 1, "title": null}},
         "color": {"field": "c", "type": "nominal", "scale": {"domain": ["1","2","3","4","5","6","7","8","9","10","11","12","13","14","15"], "range": ["#ff0000","#ff5080","#b12cf0","#ffc800","#ffc800","#f2f224","#f2f224","#5fe5ff","#32ee14","#32ee14","#9ff03c","#788484","#cbd2d0","#cbd2d0","#cbd2d0"]}, "legend": null}}},
       {"data": {"values": [{}]}, "mark": {"type": "rule", "color": "#000000", "strokeWidth": 1.2}, "encoding": {"y": {"datum": 1, "type": "quantitative", "scale": {"domain": [-0.38, 8.1], "nice": false, "zero": false}}}}
      ]},
     {"width": 13, "height": 38, "view": {"fill": "#d9d9d9", "stroke": "#999999"}, "data": {"values": [{"s": "48h"}]}, "mark": {"type": "text", "angle": 90, "fontSize": 9, "fontWeight": "bold", "color": "#1a1a1a"}, "encoding": {"text": {"field": "s"}}},
     {"width": 7, "height": 38, "data": {"values": [{}]}, "mark": {"type": "point", "opacity": 0}},
     {"width": 147, "height": 38, "view": {"fill": "#f0f0f0", "stroke": "#555555"},
      "layer": [
       {"data": {"name": "c"}, "transform": [{"filter": "datum.a == 'PP' && datum.t == '2h'"}], "mark": "bar",
        "encoding": {
         "x": {"field": "c", "type": "nominal", "scale": {"domain": ["1","2","3","4","5","6","7","8","9","10","11","12","13","14","15"], "paddingInner": 0.1, "paddingOuter": 0.15}, "axis": {"labels": false, "ticks": false, "domain": false, "grid": true, "gridColor": "#ffffff", "title": null}},
         "y": {"field": "v", "type": "quantitative", "scale": {"domain": [-0.38, 8.1], "nice": false, "zero": false}, "axis": {"values": [0,1,2,3,4,5,6,7,8], "labels": false, "ticks": false, "grid": true, "gridColor": "#ffffff", "gridWidth": {"condition": {"test": "datum.value % 2 == 1", "value": 0.5}, "value": 1}, "domain": false, "title": null}},
         "color": {"field": "c", "type": "nominal", "scale": {"domain": ["1","2","3","4","5","6","7","8","9","10","11","12","13","14","15"], "range": ["#ff0000","#ff5080","#b12cf0","#ffc800","#ffc800","#f2f224","#f2f224","#5fe5ff","#32ee14","#32ee14","#9ff03c","#788484","#cbd2d0","#cbd2d0","#cbd2d0"]}, "legend": null}}},
       {"data": {"values": [{}]}, "mark": {"type": "rule", "color": "#000000", "strokeWidth": 1.2}, "encoding": {"y": {"datum": 1, "type": "quantitative", "scale": {"domain": [-0.38, 8.1], "nice": false, "zero": false}}}}
      ]},
     {"width": 15, "height": 38, "view": {"fill": "#d9d9d9", "stroke": "#999999"}, "data": {"values": [{"s": "2h"}]}, "mark": {"type": "text", "angle": 90, "fontSize": 9, "fontWeight": "bold", "color": "#1a1a1a"}, "encoding": {"text": {"field": "s"}}},

     {"width": 147, "height": 38, "data": {"values": [{}]}, "mark": {"type": "point", "opacity": 0}},
     {"width": 13, "height": 38, "data": {"values": [{}]}, "mark": {"type": "point", "opacity": 0}},
     {"width": 7, "height": 38, "data": {"values": [{}]}, "mark": {"type": "point", "opacity": 0}},
     {"width": 147, "height": 38, "view": {"fill": "#f0f0f0", "stroke": "#555555"},
      "layer": [
       {"data": {"name": "c"}, "transform": [{"filter": "datum.a == 'PP' && datum.t == '4h'"}], "mark": "bar",
        "encoding": {
         "x": {"field": "c", "type": "nominal", "scale": {"domain": ["1","2","3","4","5","6","7","8","9","10","11","12","13","14","15"], "paddingInner": 0.1, "paddingOuter": 0.15}, "axis": {"labelAngle": 270, "labelFontSize": 9, "labelColor": "#4d4d4d", "labelPadding": 1, "tickSize": 3, "tickColor": "#333333", "domain": false, "grid": true, "gridColor": "#ffffff", "title": null}},
         "y": {"field": "v", "type": "quantitative", "scale": {"domain": [-0.38, 8.1], "nice": false, "zero": false}, "axis": {"values": [0,1,2,3,4,5,6,7,8], "labelOverlap": false, "labelExpr": "datum.value % 2 == 0 ? datum.label : ''", "tickOpacity": {"condition": {"test": "datum.value % 2 == 1", "value": 0}, "value": 1}, "grid": true, "gridColor": "#ffffff", "gridWidth": {"condition": {"test": "datum.value % 2 == 1", "value": 0.5}, "value": 1}, "domain": false, "tickSize": 3, "tickColor": "#333333", "labelFontSize": 9, "labelColor": "#4d4d4d", "labelPadding": 1, "title": null}},
         "color": {"field": "c", "type": "nominal", "scale": {"domain": ["1","2","3","4","5","6","7","8","9","10","11","12","13","14","15"], "range": ["#ff0000","#ff5080","#b12cf0","#ffc800","#ffc800","#f2f224","#f2f224","#5fe5ff","#32ee14","#32ee14","#9ff03c","#788484","#cbd2d0","#cbd2d0","#cbd2d0"]}, "legend": null}}},
       {"data": {"values": [{}]}, "mark": {"type": "rule", "color": "#000000", "strokeWidth": 1.2}, "encoding": {"y": {"datum": 1, "type": "quantitative", "scale": {"domain": [-0.38, 8.1], "nice": false, "zero": false}}}}
      ]},
     {"width": 15, "height": 38, "view": {"fill": "#d9d9d9", "stroke": "#999999"}, "data": {"values": [{"s": "4h"}]}, "mark": {"type": "text", "angle": 90, "fontSize": 9, "fontWeight": "bold", "color": "#1a1a1a"}, "encoding": {"text": {"field": "s"}}}
    ]
   }
  ]
 },
 {
  "bounds": "flush", "spacing": 0,
  "resolve": {"scale": {"color": "independent", "fill": "independent", "yOffset": "independent"}},
  "title": {"text": "B", "anchor": "start", "align": "left", "dx": -98, "fontSize": 16, "fontWeight": "normal", "offset": -5},
  "hconcat": [
   {
    "width": 126, "height": 294,
    "title": {"text": "CPD", "dx": 90, "offset": 13},
    "resolve": {"axis": {"x": "independent"}},
    "layer": [
     {"data": {"name": "states"}, "mark": {"type": "bar", "height": {"band": 1.17}},
      "encoding": {
       "y": {"field": "label", "type": "nominal", "scale": {"domain": ["1. Active Promoter","2. Weak Promoter","3. Poised Promoter","4. Strong Enhancer","5. Strong Enhancer","6. Weak Enhancer","7. Weak Enhancer","8. Insulator","9. Txn Transition","10. Txn Elongation","11. Weak Txn","12. Repressed","13. Heterochrom/lo","14. Repetitive/CNV","15. Repetitive/CNV"], "paddingInner": 0.3, "paddingOuter": 0.15},
             "axis": {"orient": "left", "labelFontSize": 12, "labelColor": "#1a1a1a", "labelPadding": 7, "ticks": false, "domain": false, "grid": false, "title": null, "labelLimit": 0}},
       "x": {"datum": -0.286, "type": "quantitative", "scale": {"domain": [-0.3, 1.5], "nice": false, "zero": false},
             "axis": {"orient": "top", "values": [0, 0.5, 1, 1.5], "labels": false, "domain": false, "ticks": true, "tickSize": 2, "tickColor": "#999999", "grid": false, "title": null}},
       "x2": {"datum": -0.214},
       "fill": {"field": "label", "type": "nominal", "scale": {"domain": ["1. Active Promoter","2. Weak Promoter","3. Poised Promoter","4. Strong Enhancer","5. Strong Enhancer","6. Weak Enhancer","7. Weak Enhancer","8. Insulator","9. Txn Transition","10. Txn Elongation","11. Weak Txn","12. Repressed","13. Heterochrom/lo","14. Repetitive/CNV","15. Repetitive/CNV"], "range": ["#ff0000","#ff5080","#b12cf0","#ffc800","#ffc800","#f2f224","#f2f224","#5fe5ff","#32ee14","#32ee14","#9ff03c","#788484","#cbd2d0","#cbd2d0","#cbd2d0"]}, "legend": null}
      }},
     {"data": {"name": "states"}, "mark": {"type": "point", "shape": "M-0.375,-1L-0.375,1L0.375,1Z", "size": 256, "filled": false, "stroke": "#333333", "strokeWidth": 0.8, "opacity": 1},
      "encoding": {
       "y": {"field": "label", "type": "nominal"},
       "x": {"datum": -0.114, "type": "quantitative", "scale": {"domain": [-0.3, 1.5], "nice": false, "zero": false}, "axis": null}
      }},
     {"data": {"name": "bcpd"}, "transform": [{"lookup": "s", "from": {"data": {"name": "states"}, "key": "s", "fields": ["label"]}}],
      "mark": {"type": "bar", "color": "#555555", "height": 0.8},
      "encoding": {
       "y": {"field": "label", "type": "nominal"},
       "yOffset": {"field": "t", "type": "nominal", "scale": {"domain": ["0h","1h","8h","24h","36h","48h"], "paddingInner": 0.12}},
       "x": {"datum": -0.045, "type": "quantitative", "scale": {"domain": [-0.3, 1.5], "nice": false, "zero": false}, "axis": null},
       "x2": {"datum": -0.012}
      }},
     {"data": {"name": "bcpd"}, "transform": [{"lookup": "s", "from": {"data": {"name": "states"}, "key": "s", "fields": ["label"]}}],
      "mark": {"type": "bar"},
      "encoding": {
       "y": {"field": "label", "type": "nominal"},
       "yOffset": {"field": "t", "type": "nominal", "scale": {"domain": ["0h","1h","8h","24h","36h","48h"], "paddingInner": 0.12}},
       "x": {"field": "v", "type": "quantitative", "scale": {"domain": [-0.3, 1.5], "nice": false, "zero": false},
             "axis": {"orient": "bottom", "values": [0, 0.5, 1, 1.5], "format": "~g", "labelFontSize": 14, "labelColor": "#1a1a1a", "labelPadding": 0, "tickSize": 3, "tickColor": "#444444", "domain": false, "grid": false,
                      "title": "Relative Damage Ratio", "titleFontSize": 13, "titleFontWeight": "normal", "titleColor": "#1a1a1a", "titleX": 146, "titleY": 29, "titleAlign": "center", "titleBaseline": "alphabetic"}},
       "color": {"field": "t", "type": "nominal", "scale": {"domain": ["0h","1h","8h","24h","36h","48h"], "range": ["#ff1010","#ea5a55","#b06a5a","#a08e80","#62a08a","#2cc09c"]}, "legend": null}
      }}
    ]
   },
   {"width": 16, "height": 90, "data": {"values": [{}]},
    "layer": [
     {"mark": {"type": "rule", "color": "#333333", "strokeWidth": 0.8},
      "encoding": {
       "x": {"datum": 0, "type": "quantitative", "scale": {"domain": [0, 1], "nice": false}, "axis": null},
       "x2": {"datum": 1},
       "y": {"datum": "0h", "type": "nominal", "scale": {"type": "point", "domain": ["0h","1h","8h","24h","36h","48h"], "padding": 0.909},
             "axis": {"orient": "left", "domain": false, "ticks": true, "tickSize": 4, "tickWidth": 1.2,
                      "tickColor": {"condition": [{"test": "datum.value == '0h'", "value": "#ff0000"}, {"test": "datum.value == '1h'", "value": "#e03a30"}, {"test": "datum.value == '8h'", "value": "#a85040"}, {"test": "datum.value == '24h'", "value": "#7e6c5c"}, {"test": "datum.value == '36h'", "value": "#4f8f76"}], "value": "#22bb95"},
                      "labelColor": {"condition": [{"test": "datum.value == '0h'", "value": "#ff0000"}, {"test": "datum.value == '1h'", "value": "#e03a30"}, {"test": "datum.value == '8h'", "value": "#a85040"}, {"test": "datum.value == '24h'", "value": "#7e6c5c"}, {"test": "datum.value == '36h'", "value": "#4f8f76"}], "value": "#22bb95"},
                      "labelFontSize": 10, "labelPadding": 1, "title": null, "grid": false}},
       "y2": {"datum": "48h"}
      }},
     {"mark": {"type": "rule", "color": "#aaaaaa", "strokeWidth": 2},
      "encoding": {
       "x": {"datum": 0, "type": "quantitative", "scale": {"domain": [0, 1], "nice": false}},
       "y": {"datum": "0h", "type": "nominal", "scale": {"type": "point", "domain": ["0h","1h","8h","24h","36h","48h"], "padding": 0.909}},
       "y2": {"datum": "48h"}
      }},
     {"mark": {"type": "rule", "color": "#333333", "strokeWidth": 0.8},
      "encoding": {
       "x": {"datum": 0, "type": "quantitative", "scale": {"domain": [0, 1], "nice": false}},
       "x2": {"datum": 1},
       "y": {"datum": "48h", "type": "nominal", "scale": {"type": "point", "domain": ["0h","1h","8h","24h","36h","48h"], "padding": 0.909}}
      }}
    ]},
   {
    "width": 137.9, "height": 294,
    "title": {"text": "(6-4)PP", "dx": 83, "offset": 13},
    "resolve": {"axis": {"x": "independent"}},
    "layer": [
     {"data": {"name": "states"}, "mark": {"type": "bar", "height": {"band": 1.17}},
      "encoding": {
       "y": {"field": "label", "type": "nominal", "scale": {"domain": ["1. Active Promoter","2. Weak Promoter","3. Poised Promoter","4. Strong Enhancer","5. Strong Enhancer","6. Weak Enhancer","7. Weak Enhancer","8. Insulator","9. Txn Transition","10. Txn Elongation","11. Weak Txn","12. Repressed","13. Heterochrom/lo","14. Repetitive/CNV","15. Repetitive/CNV"], "paddingInner": 0.3, "paddingOuter": 0.15}, "axis": null},
       "x": {"datum": -0.286, "type": "quantitative", "scale": {"domain": [-0.47, 1.5], "nice": false, "zero": false},
             "axis": {"orient": "top", "values": [0, 0.5, 1, 1.5], "labels": false, "domain": false, "ticks": true, "tickSize": 2, "tickColor": "#999999", "grid": false, "title": null}},
       "x2": {"datum": -0.214},
       "fill": {"field": "label", "type": "nominal", "scale": {"domain": ["1. Active Promoter","2. Weak Promoter","3. Poised Promoter","4. Strong Enhancer","5. Strong Enhancer","6. Weak Enhancer","7. Weak Enhancer","8. Insulator","9. Txn Transition","10. Txn Elongation","11. Weak Txn","12. Repressed","13. Heterochrom/lo","14. Repetitive/CNV","15. Repetitive/CNV"], "range": ["#ff0000","#ff5080","#b12cf0","#ffc800","#ffc800","#f2f224","#f2f224","#5fe5ff","#32ee14","#32ee14","#9ff03c","#788484","#cbd2d0","#cbd2d0","#cbd2d0"]}, "legend": null}
      }},
     {"data": {"name": "states"}, "mark": {"type": "point", "shape": "M-0.375,-1L-0.375,1L0.375,1Z", "size": 256, "filled": false, "stroke": "#333333", "strokeWidth": 0.8, "opacity": 1},
      "encoding": {
       "y": {"field": "label", "type": "nominal"},
       "x": {"datum": -0.114, "type": "quantitative", "scale": {"domain": [-0.47, 1.5], "nice": false, "zero": false}, "axis": null}
      }},
     {"data": {"name": "bpp"}, "transform": [{"lookup": "s", "from": {"data": {"name": "states"}, "key": "s", "fields": ["label"]}}],
      "mark": {"type": "bar", "color": "#555555", "height": 0.8},
      "encoding": {
       "y": {"field": "label", "type": "nominal"},
       "yOffset": {"field": "t", "type": "nominal", "scale": {"domain": ["0h","1/3h","1h","2h","4h"], "paddingInner": 0.15}},
       "x": {"datum": -0.045, "type": "quantitative", "scale": {"domain": [-0.47, 1.5], "nice": false, "zero": false}, "axis": null},
       "x2": {"datum": -0.012}
      }},
     {"data": {"name": "bpp"}, "transform": [{"lookup": "s", "from": {"data": {"name": "states"}, "key": "s", "fields": ["label"]}}],
      "mark": {"type": "bar"},
      "encoding": {
       "y": {"field": "label", "type": "nominal"},
       "yOffset": {"field": "t", "type": "nominal", "scale": {"domain": ["0h","1/3h","1h","2h","4h"], "paddingInner": 0.15}},
       "x": {"field": "v", "type": "quantitative", "scale": {"domain": [-0.47, 1.5], "nice": false, "zero": false},
             "axis": {"orient": "bottom", "values": [0, 0.5, 1, 1.5], "format": "~g", "labelFontSize": 14, "labelColor": "#1a1a1a", "labelPadding": 0, "tickSize": 3, "tickColor": "#444444", "domain": false, "grid": false, "title": null}},
       "color": {"field": "t", "type": "nominal", "scale": {"domain": ["0h","1/3h","1h","2h","4h"], "range": ["#ff1010","#dc5048","#a88878","#66a08a","#2cc4a4"]}, "legend": null}
      }}
    ]
   },
   {"width": 17, "height": 89, "data": {"values": [{}]},
    "layer": [
     {"mark": {"type": "rule", "color": "#333333", "strokeWidth": 0.8},
      "encoding": {
       "x": {"datum": 0, "type": "quantitative", "scale": {"domain": [0, 1], "nice": false}, "axis": null},
       "x2": {"datum": 1},
       "y": {"datum": "0h", "type": "nominal", "scale": {"type": "point", "domain": ["0h","1/3h","1h","2h","4h"], "padding": 0.738},
             "axis": {"orient": "left", "domain": false, "ticks": true, "tickSize": 4, "tickWidth": 1.2,
                      "tickColor": {"condition": [{"test": "datum.value == '0h'", "value": "#ff0000"}, {"test": "datum.value == '1/3h'", "value": "#c8403a"}, {"test": "datum.value == '1h'", "value": "#9a8070"}, {"test": "datum.value == '2h'", "value": "#5a9078"}], "value": "#22c0a0"},
                      "labelColor": {"condition": [{"test": "datum.value == '0h'", "value": "#ff0000"}, {"test": "datum.value == '1/3h'", "value": "#c8403a"}, {"test": "datum.value == '1h'", "value": "#9a8070"}, {"test": "datum.value == '2h'", "value": "#5a9078"}], "value": "#22c0a0"},
                      "labelFontSize": 10, "labelPadding": 1, "title": null, "grid": false}},
       "y2": {"datum": "4h"}
      }},
     {"mark": {"type": "rule", "color": "#333333", "strokeWidth": 0.8},
      "encoding": {
       "x": {"datum": 0, "type": "quantitative", "scale": {"domain": [0, 1], "nice": false}},
       "y": {"datum": "0h", "type": "nominal", "scale": {"type": "point", "domain": ["0h","1/3h","1h","2h","4h"], "padding": 0.738}},
       "y2": {"datum": "4h"}
      }},
     {"mark": {"type": "rule", "color": "#333333", "strokeWidth": 0.8},
      "encoding": {
       "x": {"datum": 0, "type": "quantitative", "scale": {"domain": [0, 1], "nice": false}},
       "x2": {"datum": 1},
       "y": {"datum": "4h", "type": "nominal", "scale": {"type": "point", "domain": ["0h","1/3h","1h","2h","4h"], "padding": 0.738}}
      }}
    ]}
  ]
 }
]
}
